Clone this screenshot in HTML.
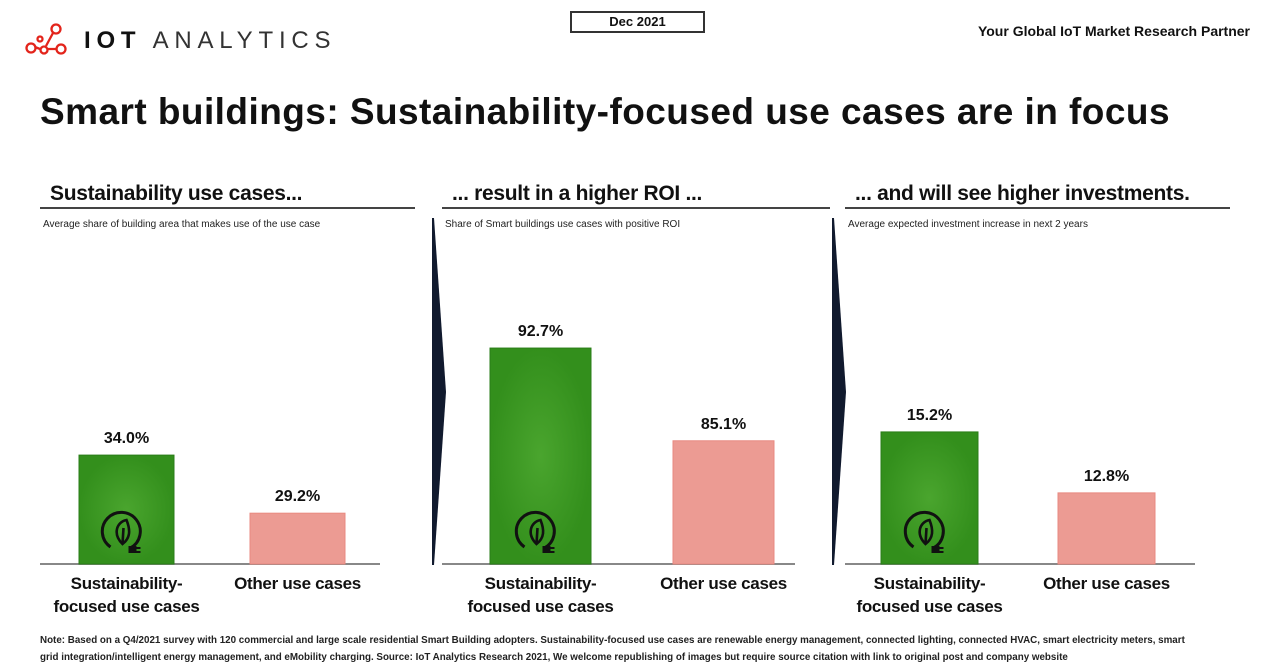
<!DOCTYPE html>
<html><head><meta charset="utf-8"><style>
body{margin:0;width:1280px;height:670px;background:#fff;position:relative;overflow:hidden;font-family:"Liberation Sans",sans-serif;color:#111}
.abs{position:absolute}
.hdr{font-size:21px;font-weight:bold;letter-spacing:-0.3px}
.sub{font-size:10px;color:#222}
.cat{font-size:17px;font-weight:bold;text-align:center;line-height:23px;letter-spacing:-0.3px}
.val{font-size:16px;font-weight:bold;text-align:center}
</style></head><body>
<div class="abs" style="left:24px;top:22px;width:330px;height:40px">
<svg width="46" height="40" style="position:absolute;left:0;top:0"><g stroke="#e3241b" stroke-width="2.3" fill="none"><circle cx="32" cy="7" r="4.5"/><circle cx="7" cy="26" r="4.5"/><circle cx="20" cy="28" r="3.5"/><circle cx="37" cy="27" r="4.5"/><circle cx="16" cy="17" r="2.5"/><path d="M29 11 L22 24 M23 27 L32 27 M11 25 L16 27"/></g></svg>
<div class="abs" style="left:60px;top:5px;font-size:24px;letter-spacing:5.8px;white-space:nowrap"><b>IOT</b> <span style="color:#333">ANALYTICS</span></div>
</div>
<div class="abs" style="left:570px;top:11px;width:131px;height:18px;border:2px solid #333;font-size:13px;font-weight:bold;text-align:center;line-height:18px">Dec 2021</div>
<div class="abs" style="left:950px;top:23px;width:300px;text-align:right;font-size:14px;font-weight:bold">Your Global IoT Market Research Partner</div>
<div class="abs" style="left:40px;top:91px;font-size:37px;font-weight:bold;letter-spacing:0.45px;white-space:nowrap">Smart buildings: Sustainability-focused use cases are in focus</div>
<svg id="chart" class="abs" style="left:0;top:0" width="1280" height="670"></svg>
<div id="labels"></div>
<div class="abs" style="left:40px;top:632px;width:1160px;font-size:9.8px;font-weight:bold;line-height:17px;color:#222"><b>Note:</b> Based on a Q4/2021 survey with 120 commercial and large scale residential Smart Building adopters. Sustainability-focused use cases are renewable energy management, connected lighting, connected HVAC, smart electricity meters, smart grid integration/intelligent energy management, and eMobility charging. <b>Source:</b> IoT Analytics Research 2021, We welcome republishing of images but require source citation with link to original post and company website</div>
<script>
const panelTitles=["Sustainability use cases...","... result in a higher ROI ...","... and will see higher investments."];
const panelSubtitles=["Average share of building area that makes use of the use case","Share of Smart buildings use cases with positive ROI","Average expected investment increase in next 2 years"];
const categories=["Sustainability-\nfocused use cases","Other use cases"];
const sustainValues=[34.0,92.7,15.2];
const otherValues=[29.2,85.1,12.8];
const axisMins=[25,75,10];
const pxPerUnit=[12.1,12.2,25.4];
const panels=[{x0:40,x1:415,bx:[79,250],bw:95},{x0:442,x1:830,bx:[490,673],bw:101},{x0:845,x1:1230,bx:[881,1058],bw:97}];
const base=564;
const svg=document.getElementById('chart'), L=document.getElementById('labels');
const NS='http://www.w3.org/2000/svg';
function mk(t,a){const e=document.createElementNS(NS,t);for(const k in a)e.setAttribute(k,a[k]);svg.appendChild(e);return e;}
function div(html,cls,st){const d=document.createElement('div');d.className='abs '+cls;d.style.cssText=st;d.innerHTML=html;L.appendChild(d);return d;}
function y(i,v){return base-(v-axisMins[i])*pxPerUnit[i];}
const defs=mk('defs',{});
defs.innerHTML='<radialGradient id="g"><stop offset="0" stop-color="#4aa52e"/><stop offset="1" stop-color="#338f1c"/></radialGradient>';
panels.forEach((p,i)=>{
  let d=div(panelTitles[i],'hdr','left:'+(p.x0+10)+'px;top:182px;white-space:nowrap');
  
  
  let l=mk('line',{x1:p.x0,x2:p.x1,y1:208,y2:208,stroke:'#444','stroke-width':2});
  
  
  d=div(panelSubtitles[i],'sub','left:'+(p.x0+3)+'px;top:219px;white-space:nowrap');
  
  
  let ax=mk('line',{x1:p.x0,x2:p.x1-35,y1:base,y2:base,stroke:'#888','stroke-width':2});
  
  
  [sustainValues[i],otherValues[i]].forEach((v,j)=>{
    const top=y(i,v), bx=p.bx[j];
    const r=mk('rect',{x:bx,y:top,width:p.bw,height:base-top,fill:j?'#ec9b93':'url(#g)',stroke:j?'#e88a80':'#2a7d18','stroke-width':1});
    
    
    let vl=div(v.toFixed(1)+'%','val','left:'+bx+'px;width:'+p.bw+'px;top:'+(top-25)+'px');
    
    
    let cl=div(categories[j].replace('\n','<br>'),'cat','left:'+(bx+p.bw/2-90)+'px;width:180px;top:572px');
    
    
    if(!j){
      const g=mk('g',{transform:'translate('+(bx+p.bw/2-4)+',534)'});
      
      
      g.innerHTML='<path d="M8 14 A19 19 0 1 0 -12 13" fill="none" stroke="#111" stroke-width="3"/><path d="M0 10 C-10 0 -6 -12 4 -14 C8 -4 8 4 0 10 Z M0 10 L1 -6" fill="none" stroke="#111" stroke-width="2.6"/><rect x="6" y="12" width="8" height="7" fill="#111"/><line x1="14" y1="14" x2="18" y2="14" stroke="#111" stroke-width="2"/><line x1="14" y1="18" x2="18" y2="18" stroke="#111" stroke-width="2"/>';
    }
  });
});
[432,832].forEach(x=>{
  const a=mk('polygon',{points:x+',218 '+(x+2)+',218 '+(x+14)+',392 '+(x+2)+',565 '+x+',565',fill:'#111a2e'});
  
  
});
</script>
</body></html>
